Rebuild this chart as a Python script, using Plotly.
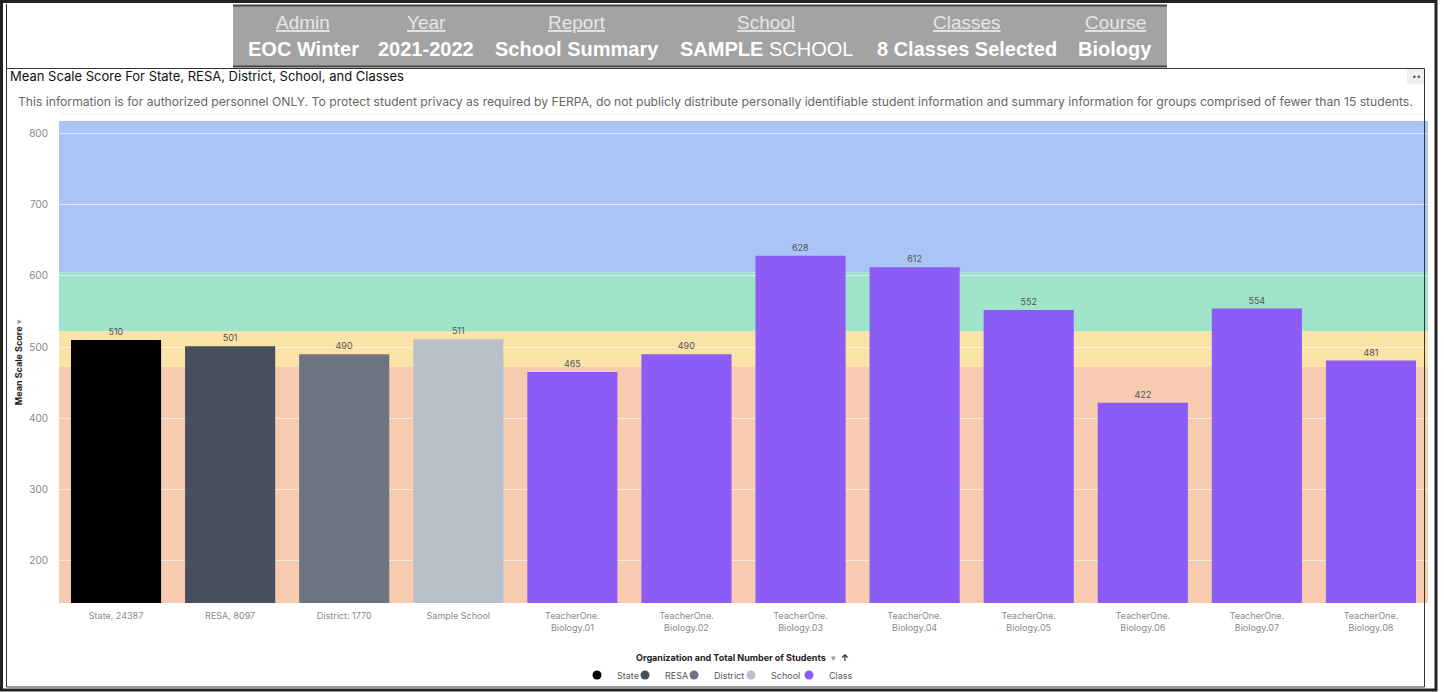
import plotly.graph_objects as go

# ---------------- data ----------------
categories = ["State, 24387", "RESA, 8097", "District: 1770", "Sample School",
              "TeacherOne.<br>Biology.01", "TeacherOne.<br>Biology.02",
              "TeacherOne.<br>Biology.03", "TeacherOne.<br>Biology.04",
              "TeacherOne.<br>Biology.05", "TeacherOne.<br>Biology.06",
              "TeacherOne.<br>Biology.07", "TeacherOne.<br>Biology.08"]
scores = [510, 501, 490, 511, 465, 490, 628, 612, 552, 422, 554, 481]
groups = ["State", "RESA", "District", "School",
          "Class", "Class", "Class", "Class", "Class", "Class", "Class", "Class"]
group_names = ["State", "RESA", "District", "School", "Class"]
group_colors = ["#000000", "#474f5c", "#6d7480", "#bac0ca", "#8b5cf6"]

# performance level bands (scale-score cut points)
band_edges = [141, 472, 522, 605, 817]
band_colors = ["#f6cbb0", "#f9e3a7", "#9fe4c9", "#aac4f5"]

y_ticks = [200, 300, 400, 500, 600, 700, 800]

header_labels = ["Admin", "Year", "Report", "School", "Classes", "Course"]
header_values = ["<b>EOC Winter</b>", "<b>2021-2022</b>", "<b>School Summary</b>",
                 "<b>SAMPLE</b> SCHOOL", "<b>8 Classes Selected</b>", "<b>Biology</b>"]

# ---------------- layout helpers ----------------
W, H = 1444, 692
ML, MR, MT, MB = 59, 16, 121, 89
PW, PH = W - ML - MR, H - MT - MB


def px(x):
    return (x - ML) / PW


def py(y):
    return (H - MB - y) / PH


fig = go.Figure()

color_of = dict(zip(group_names, group_colors))
for g in group_names:
    xs = [c for c, gg in zip(categories, groups) if gg == g]
    ys = [s for s, gg in zip(scores, groups) if gg == g]
    fig.add_trace(go.Bar(
        x=xs, y=ys, name=g, marker=dict(color=color_of[g], line=dict(width=0)),
        text=[str(v) for v in ys], textposition="outside",
        textfont=dict(size=9, color="#555555", family="Inter, Liberation Sans, sans-serif"),
        cliponaxis=False, showlegend=False, hoverinfo="x+y"))

# legend entries with circle markers, one small legend per entry
legend_marker_x = [597, 645, 694, 751, 809]
legend_ids = ["legend", "legend2", "legend3", "legend4", "legend5"]
for g, lid in zip(group_names, legend_ids):
    fig.add_trace(go.Scatter(
        x=[None], y=[None], mode="markers", name=g, legend=lid,
        marker=dict(symbol="circle", size=9, color=color_of[g])))

shapes = []
for i, c in enumerate(band_colors):
    shapes.append(dict(type="rect", xref="paper", yref="y", x0=0, x1=1,
                       y0=band_edges[i], y1=band_edges[i + 1],
                       fillcolor=c, line=dict(width=0), layer="below"))

# header box
shapes.append(dict(type="rect", xref="paper", yref="paper",
                   x0=px(233), x1=px(1167), y0=py(67), y1=py(5),
                   fillcolor="#a3a3a3", line=dict(width=0), layer="above"))
shapes.append(dict(type="line", xref="paper", yref="paper",
                   x0=px(233), x1=px(1167), y0=py(5.5), y1=py(5.5),
                   line=dict(color="#444444", width=2)))
shapes.append(dict(type="line", xref="paper", yref="paper",
                   x0=px(233), x1=px(1167), y0=py(66.5), y1=py(66.5),
                   line=dict(color="#444444", width=2)))
# outer frame
shapes.append(dict(type="rect", xref="paper", yref="paper",
                   x0=px(1.5), x1=px(1436), y0=py(690), y1=py(1.5),
                   line=dict(color="#222222", width=3), fillcolor="rgba(0,0,0,0)"))
shapes.append(dict(type="line", xref="paper", yref="paper",
                   x0=px(6.5), x1=px(6.5), y0=py(4), y1=py(687),
                   line=dict(color="#222222", width=1)))
# chart card frame
shapes.append(dict(type="rect", xref="paper", yref="paper",
                   x0=px(6.5), x1=px(1424.5), y0=py(687), y1=py(68.5),
                   line=dict(color="#333333", width=1), fillcolor="rgba(0,0,0,0)"))
# faint separator under the notice
shapes.append(dict(type="line", xref="paper", yref="paper",
                   x0=px(60), x1=px(1424), y0=py(114), y1=py(114),
                   line=dict(color="#eeeeee", width=1)))
# menu button bg
shapes.append(dict(type="rect", xref="paper", yref="paper",
                   x0=px(1407), x1=px(1424), y0=py(84), y1=py(69),
                   fillcolor="#f0f0f2", line=dict(width=0)))

annotations = []
hdr_x = [303, 426, 577, 766, 967, 1115]
for x, lab, val in zip(hdr_x, header_labels, header_values):
    annotations.append(dict(x=px(x), y=py(22), xref="paper", yref="paper",
                            text=f"<u>{lab}</u>", showarrow=False,
                            font=dict(size=19, color="#e6e6e6",
                                      family="Liberation Sans, Arial, sans-serif"),
                            xanchor="center", yanchor="middle"))
    annotations.append(dict(x=px(x), y=py(49), xref="paper", yref="paper",
                            text=val, showarrow=False,
                            font=dict(size=20, color="#ffffff",
                                      family="Liberation Sans, Arial, sans-serif"),
                            xanchor="center", yanchor="middle"))

annotations.append(dict(x=px(8), y=py(76), xref="paper", yref="paper",
                        text="Mean Scale Score For State, RESA, District, School, and Classes",
                        showarrow=False, xanchor="left", yanchor="middle",
                        font=dict(size=13, color="#111111",
                                  family="Inter, Liberation Sans, sans-serif")))
annotations.append(dict(x=px(16), y=py(102), xref="paper", yref="paper",
                        text=("This information is for authorized personnel ONLY. To protect student "
                              "privacy as required by FERPA, do not publicly distribute personally "
                              "identifiable student information and summary information for groups "
                              "comprised of fewer than 15 students."),
                        showarrow=False, xanchor="left", yanchor="middle",
                        font=dict(size=12.17, color="#666666",
                                  family="Inter, Liberation Sans, sans-serif")))
annotations.append(dict(x=px(1416), y=py(76), xref="paper", yref="paper",
                        text="••", showarrow=False, xanchor="center", yanchor="middle",
                        font=dict(size=8, color="#555555")))
annotations.append(dict(x=px(742), y=py(657), xref="paper", yref="paper",
                        text="<b>Organization and Total Number of Students</b>  <span style='color:#999'>▾</span>  <b>↑</b>",
                        showarrow=False, xanchor="center", yanchor="middle",
                        font=dict(size=9, color="#222222",
                                  family="Inter, Liberation Sans, sans-serif")))

legend_layouts = {}
for lid, mx in zip(legend_ids, legend_marker_x):
    legend_layouts[lid] = dict(
        orientation="h", x=px(mx - 20), xanchor="left", y=py(675), yanchor="middle",
        font=dict(size=9, color="#555555"), itemwidth=30,
        bgcolor="rgba(0,0,0,0)")

fig.update_layout(
    width=W, height=H,
    margin=dict(l=ML, r=MR, t=MT, b=MB, autoexpand=False),
    paper_bgcolor="white", plot_bgcolor="white",
    barmode="overlay", bargap=0.21,
    font=dict(family="Inter, Liberation Sans, sans-serif"),
    shapes=shapes, annotations=annotations,
    xaxis=dict(categoryorder="array", categoryarray=categories,
               tickfont=dict(size=9, color="#8a8a8a"), showgrid=False,
               showline=False, zeroline=False, ticks="", ticklabelstandoff=6,
               range=[-0.5, len(categories) - 0.5]),
    yaxis=dict(range=[band_edges[0], band_edges[-1]], tickvals=y_ticks,
               tickfont=dict(size=10, color="#888888"),
               gridcolor="rgba(255,255,255,0.55)", gridwidth=1,
               zeroline=False, showline=False, ticks="", ticklabelstandoff=10,
               title=dict(text="<b>Mean Scale Score</b> <span style='color:#999'>▾</span>",
                          font=dict(size=9, color="#222222"), standoff=4)),
    **legend_layouts,
)

fig.write_html("out.html", config={"displayModeBar": False},
               post_script="document.body.style.margin='0';document.body.style.overflow='hidden';")
